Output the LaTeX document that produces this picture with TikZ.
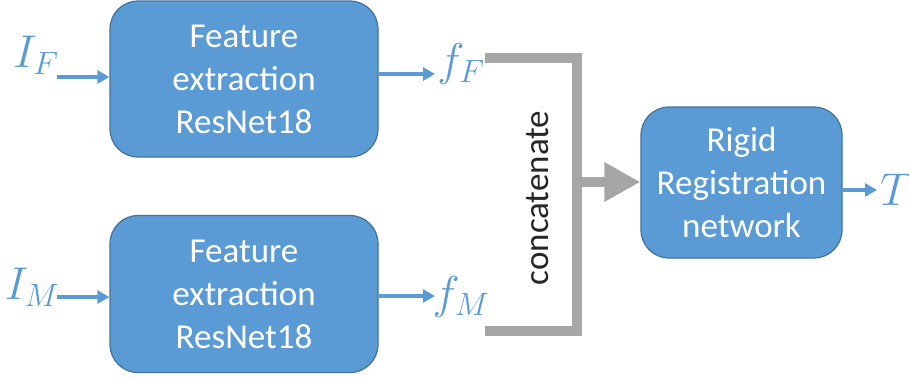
\RequirePackage{fix-cm}
\documentclass[tikz,border=0pt]{standalone}
\usepackage{fontspec}
\setmainfont{Carlito}
\usetikzlibrary{arrows.meta}
\definecolor{boxblue}{RGB}{91,155,213}
\definecolor{boxedge}{RGB}{65,113,156}
\definecolor{bargray}{RGB}{166,166,166}
\begin{document}
\begin{tikzpicture}[x=1pt,y=-1pt,
  block/.style={draw=boxedge, line width=1.2pt, fill=boxblue, rounded corners=28pt,
    text=white, font=\fontsize{35}{43}\selectfont, align=center, inner sep=0pt},
  bluearrow/.style={draw=boxblue, line width=3.5pt, -{Triangle[length=12pt,width=13pt]}},
  lbl/.style={text=boxblue, font=\fontsize{46}{46}\selectfont, inner sep=0pt},
  bar/.style={draw=bargray, line width=10pt}]
\useasboundingbox (0,0) rectangle (909,378);
% blocks
\node[block, minimum width=268pt, minimum height=156pt] (fe1) at (244,79) {Feature\\extraction\\ResNet18};
\node[block, minimum width=268pt, minimum height=157pt] (fe2) at (244,294) {Feature\\extraction\\ResNet18};
\node[block, minimum width=201pt, minimum height=151pt] (rr) at (741.5,182.5) {Rigid\\Registration\\network};
% labels
\node[lbl] (IF) at (36,55) {$I_F$};
\node[lbl] (IM) at (32,287) {$I_M$};
\node[lbl] (fF) at (461,64) {$f_F$};
\node[lbl] (fM) at (461,297) {$f_M$};
\node[lbl, anchor=west] (T) at (880,190) {$T$};
% arrow end coordinates
\coordinate (aIF) at (57,77);
\coordinate (aIM) at (57,297);
\coordinate (aFF) at (435,74);
\coordinate (aFM) at (435,296);
\coordinate (aT) at (877,190);
\draw[bluearrow] (aIF) -- (fe1.west |- aIF);
\draw[bluearrow] (aIM) -- (fe2.west |- aIM);
\draw[bluearrow] (fe1.east |- aFF) -- (aFF);
\draw[bluearrow] (fe2.east |- aFM) -- (aFM);
\draw[bluearrow] (rr.east |- aT) -- (aT);
% concatenate bracket
\coordinate (b1) at (485,58);
\coordinate (b2) at (577,58);
\coordinate (b3) at (577,331);
\coordinate (b4) at (485,331);
\coordinate (bm) at (572,182);
\draw[bar] (b1) -- (b2) -- (b3) -- (b4);
\draw[bar, -{Triangle[length=36pt,width=37pt]}] (bm) -- (rr.west |- bm);
\node[rotate=90, font=\fontsize{35}{35}\selectfont, text=black!85, inner sep=0pt] (cat) at (538,198) {concatenate};
\end{tikzpicture}
\end{document}
